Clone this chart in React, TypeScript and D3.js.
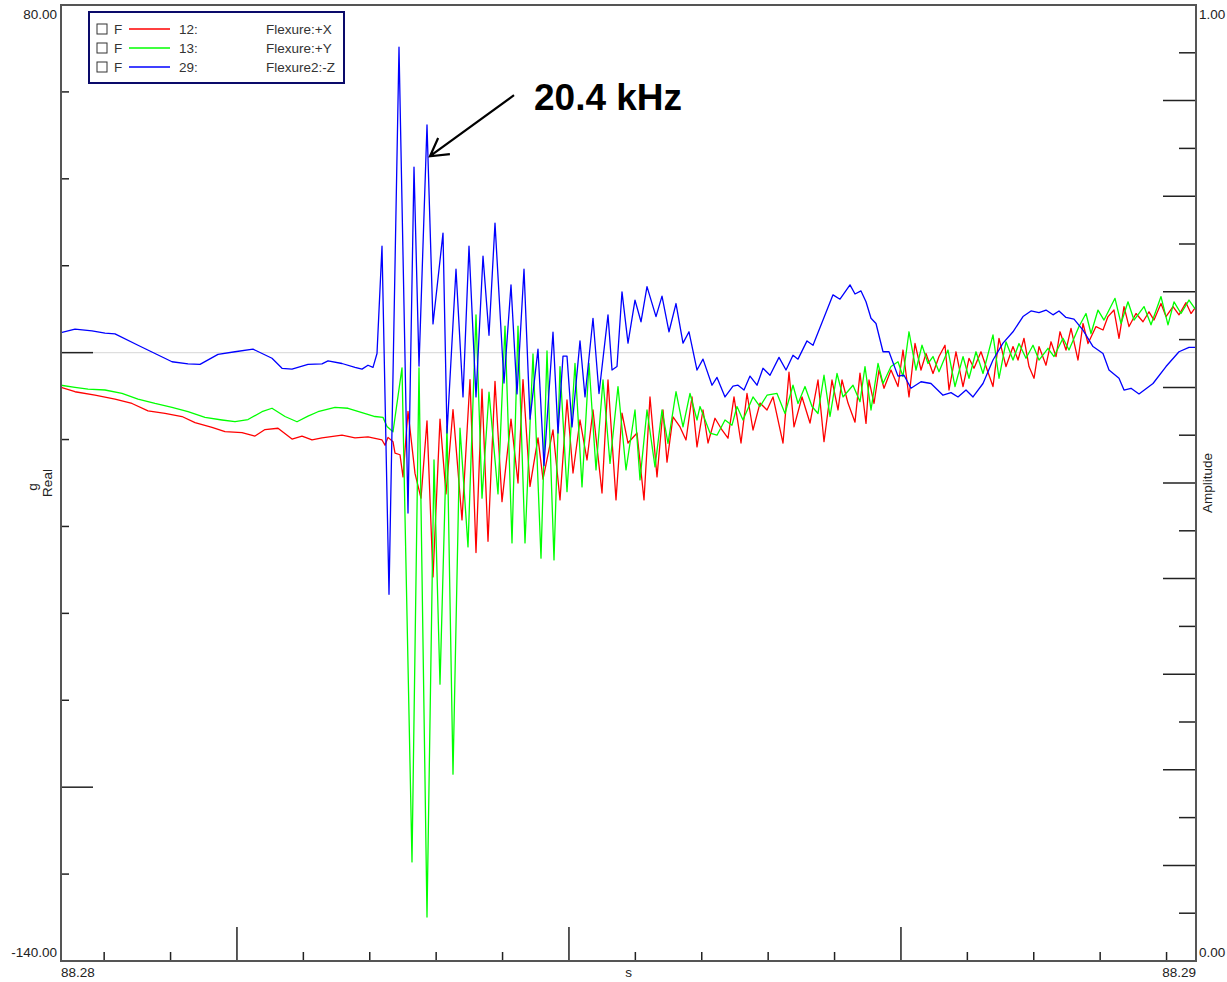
import React, { useEffect, useRef } from 'react'
import * as d3 from 'd3'

// time base: samples counted from the first sample of the window
const FS = 166000 // samples / s
const T0 = 88.28094 // s
const SAMPLE_COUNT = 1135
const TICK_STEP = 0.0004 // s

const realDomain = [-140, 80]
const ampDomain = [0, 1]

const legendIds = ['12:', '13:', '29:']
const legendNames = ['Flexure:+X', 'Flexure:+Y', 'Flexure2:-Z']
const seriesColors = ['#ff0000', '#00ff00', '#0000ff']

// [sample, g]
const redSamples = [
    [0, -8.0], [14, -9.0], [34, -9.8], [54, -10.7], [71, -11.7], [87, -13.4], [104, -14.0], [121, -14.7], [134, -16.1], [151, -17.2],
    [164, -18.2], [181, -18.4], [194, -19.2], [204, -17.7], [217, -17.4], [231, -19.9], [241, -19.2], [251, -20.1], [261, -19.6], [281, -19.0],
    [294, -19.6], [307, -19.4], [321, -20.1], [324, -21.3], [327, -19.5], [332, -20.5], [334, -23.1], [339, -23.5], [342, -28.6], [347, -13.5],
    [354, -27.8], [360, -33.5], [366, -15.7], [372, -51.6], [379, -15.3], [385, -32.5], [392, -13.1], [401, -38.5], [409, -6.2], [415, -46.0],
    [421, -8.4], [427, -43.4], [434, -6.6], [441, -34.3], [450, -15.3], [457, -30.0], [462, -6.2], [469, -30.8], [477, -19.6], [482, -29.1],
    [492, -17.8], [499, -33.9], [506, -10.9], [512, -27.7], [519, -15.5], [526, -24.7], [532, -13.2], [541, -32.3], [547, -6.3], [555, -33.9],
    [561, -13.9], [567, -20.8], [576, -18.5], [583, -33.9], [589, -10.2], [596, -28.6], [602, -13.2], [606, -25.2], [612, -14.8], [619, -17.1],
    [625, -20.1], [631, -10.2], [636, -21.7], [642, -13.2], [647, -20.8], [654, -15.1], [661, -17.8], [667, -19.7], [673, -10.2], [680, -20.8],
    [686, -9.4], [692, -17.8], [699, -11.6], [706, -13.2], [712, -10.2], [722, -20.8], [728, -4.5], [733, -17.1], [741, -10.2], [749, -16.2],
    [757, -6.3], [763, -20.5], [771, -6.3], [777, -13.2], [781, -6.3], [787, -11.6], [794, -16.0], [799, -4.7], [805, -16.3], [808, -6.3],
    [813, -11.7], [818, -4.0], [823, -8.2], [830, -4.0], [837, -7.8], [842, 0.6], [848, -10.2], [854, 2.1], [860, -4.0], [865, -0.2],
    [872, -4.8], [878, -0.9], [884, 1.7], [888, -8.6], [895, 0.2], [902, -7.8], [908, -1.3], [913, -3.6], [920, 0.2], [925, -3.2],
    [932, -7.8], [938, 3.3], [945, -3.2], [952, 1.4], [957, -1.7], [963, 3.3], [968, -3.2], [973, -5.9], [978, 1.4], [985, -2.9],
    [990, 2.5], [995, -0.9], [999, 4.8], [1005, 0.6], [1010, 5.6], [1017, -1.7], [1022, 6.7], [1027, 2.1], [1035, 6.0], [1042, 5.2],
    [1047, 8.3], [1053, 9.8], [1058, 3.3], [1063, 10.6], [1068, 6.0], [1075, 9.0], [1082, 7.1], [1088, 9.4], [1093, 7.5], [1100, 11.3],
    [1105, 8.3], [1112, 10.6], [1118, 8.7], [1125, 11.5], [1130, 9.0], [1135, 10.6]
]

const greenSamples = [
    [0, -7.5], [14, -8.0], [27, -8.4], [44, -8.6], [61, -9.4], [77, -10.7], [94, -11.7], [111, -12.6], [127, -13.6], [144, -14.9],
    [161, -15.5], [174, -15.9], [187, -15.4], [201, -13.6], [211, -12.8], [224, -14.7], [236, -15.9], [247, -14.6], [257, -13.6], [274, -12.6],
    [287, -12.8], [301, -13.8], [314, -14.7], [322, -14.9], [326, -17.0], [332, -18.2], [341, -3.5], [351, -117.2], [358, -3.5], [366, -129.9],
    [373, -24.7], [379, -76.3], [386, -16.9], [392, -97.0], [399, -17.4], [407, -44.7], [415, 8.7], [421, -33.5], [428, -9.1], [437, -32.5],
    [444, 6.1], [451, -43.8], [457, 6.1], [464, -43.8], [472, -0.3], [480, -47.3], [486, 0.4], [493, -47.7], [499, -3.2], [506, -32.0],
    [514, -2.5], [521, -30.9], [528, -2.5], [535, -27.0], [542, -6.3], [549, -25.5], [557, -7.8], [565, -27.0], [574, -13.2], [579, -29.3],
    [586, -13.2], [594, -26.3], [601, -13.2], [607, -20.9], [615, -9.0], [622, -17.1], [629, -9.4], [636, -15.5], [639, -12.4], [649, -18.5],
    [656, -19.0], [664, -15.5], [671, -16.7], [676, -12.4], [682, -15.5], [692, -10.2], [699, -12.4], [706, -9.8], [716, -9.4], [724, -14.0],
    [732, -7.5], [737, -11.7], [744, -7.8], [751, -12.4], [757, -14.0], [763, -5.2], [769, -14.7], [776, -4.8], [782, -10.2], [792, -7.5],
    [799, -11.3], [804, -3.2], [810, -13.2], [817, -2.5], [822, -7.1], [830, -3.2], [837, -2.1], [842, -5.5], [848, 4.8], [855, -4.0],
    [861, 1.7], [867, -2.5], [872, -0.9], [878, -4.4], [887, 0.6], [894, -7.8], [902, -0.9], [908, -5.9], [915, 0.2], [922, -4.8],
    [932, 4.1], [938, -5.9], [945, 2.5], [952, -1.7], [958, 2.1], [965, -1.3], [972, 1.7], [978, -1.7], [987, 1.0], [993, -0.9],
    [1002, 3.3], [1008, 0.6], [1018, 6.0], [1025, 9.0], [1030, 4.4], [1037, 9.8], [1043, 7.5], [1054, 12.5], [1060, 6.7], [1067, 11.7],
    [1073, 7.5], [1083, 10.6], [1090, 6.4], [1100, 12.9], [1107, 6.4], [1113, 11.7], [1120, 9.0], [1128, 12.1], [1135, 9.8]
]

const blueSamples = [
    [0, 4.6], [14, 5.4], [31, 5.0], [44, 4.5], [54, 4.3], [77, 1.7], [94, -0.2], [111, -2.1], [127, -2.6], [139, -2.7],
    [157, -0.4], [174, 0.2], [192, 0.8], [211, -1.3], [221, -3.6], [231, -3.8], [247, -2.7], [261, -2.6], [267, -1.9], [281, -2.5],
    [294, -3.4], [301, -3.8], [307, -2.9], [312, -3.4], [316, -0.2], [321, 24.5], [328, -55.6], [338, 70.3], [347, -36.9], [353, 42.7],
    [358, -3.1], [366, 52.4], [372, 6.6], [382, 27.5], [386, -18.5], [395, 19.2], [402, -10.2], [408, 24.5], [415, -10.2], [422, 22.2],
    [428, 4.0], [434, 29.8], [443, -7.0], [450, 15.6], [456, -9.5], [463, 19.2], [469, -15.3], [477, 0.8], [483, -26.0], [492, 4.7],
    [497, -18.5], [502, -0.8], [506, -0.8], [511, -17.1], [519, 2.7], [524, -10.2], [532, 7.9], [538, -9.4], [547, 8.7], [551, -4.0],
    [556, -3.2], [561, 14.0], [567, 2.2], [574, 12.1], [580, 7.1], [586, 15.2], [595, 8.3], [601, 13.0], [608, 4.8], [615, 11.3],
    [622, 2.2], [628, 4.8], [636, -4.0], [642, -1.5], [651, -7.5], [656, -5.7], [664, -10.2], [672, -7.7], [677, -7.5], [683, -8.6],
    [689, -5.4], [696, -7.5], [702, -3.6], [709, -5.2], [718, -1.1], [725, -4.0], [732, -0.6], [737, -1.5], [746, 2.7], [752, 1.7],
    [762, 7.5], [772, 13.3], [779, 12.3], [789, 15.6], [794, 13.5], [800, 14.2], [805, 11.7], [810, 7.9], [815, 6.7], [822, 0.2],
    [828, 0.2], [837, -5.4], [843, -5.2], [850, -8.2], [860, -6.7], [870, -7.1], [882, -9.8], [890, -9.2], [897, -10.2], [905, -8.6],
    [912, -10.2], [922, -7.1], [932, -1.7], [942, 2.2], [952, 4.8], [962, 8.3], [970, 9.6], [978, 9.2], [985, 9.8], [992, 8.7],
    [998, 9.6], [1005, 8.1], [1013, 7.7], [1022, 5.2], [1032, 1.4], [1042, -0.2], [1048, -4.0], [1058, -5.9], [1063, -8.6], [1070, -8.2],
    [1078, -9.5], [1092, -7.1], [1105, -3.2], [1118, 0.2], [1128, 1.2], [1135, 1.2]
]

const annotationText = '20.4 kHz'
const annotationPoint = [369, 45.2] // blue peak the arrow points at

const FONT = '"Liberation Sans", Arial, sans-serif'

function App() {
    const ref = useRef(null)
    const width = 1227
    const height = 982
    const margin = { left: 61, right: 31, top: 5, bottom: 21 }

    useEffect(() => {
        const svg = d3.select(ref.current)
        svg.selectAll('*').remove()

        const T1 = T0 + SAMPLE_COUNT / FS
        const x = d3.scaleLinear().domain([T0, T1]).range([margin.left, width - margin.right])
        const y = d3.scaleLinear().domain(realDomain).range([height - margin.bottom, margin.top])
        const yAmp = d3.scaleLinear().domain(ampDomain).range([height - margin.bottom, margin.top])
        const sx = (n) => x(T0 + n / FS)

        const left = margin.left, right = width - margin.right
        const top = margin.top, bottom = height - margin.bottom

        svg.append('rect').attr('width', width).attr('height', height).attr('fill', '#fff')

        // zero line
        svg.append('line')
            .attr('x1', left).attr('x2', right)
            .attr('y1', y(0)).attr('y2', y(0))
            .attr('stroke', '#dedede').attr('stroke-width', 1.2)

        svg.append('clipPath').attr('id', 'plot-clip')
            .append('rect').attr('x', left).attr('y', top).attr('width', right - left).attr('height', bottom - top)

        const line = d3.line().x(d => sx(d[0])).y(d => y(d[1]))
        const series = [redSamples, greenSamples, blueSamples]
        svg.append('g').attr('clip-path', 'url(#plot-clip)')
            .selectAll('path')
            .data(series)
            .join('path')
            .attr('fill', 'none')
            .attr('stroke', (_d, i) => seriesColors[i])
            .attr('stroke-width', 1.3)
            .attr('stroke-linejoin', 'round')
            .attr('d', d => line(d))

        // ticks
        const tickG = svg.append('g').attr('stroke', '#222').attr('stroke-width', 1.5)

        d3.range(-120, 80, 20).forEach(v => {
            const len = v % 100 === 0 ? 32 : 8
            tickG.append('line').attr('x1', left).attr('x2', left + len).attr('y1', y(v)).attr('y2', y(v))
        })

        d3.range(1, 20).forEach(i => {
            const len = i % 2 === 0 ? 33 : 17
            tickG.append('line').attr('x1', right - len).attr('x2', right).attr('y1', yAmp(i * 0.05)).attr('y2', yAmp(i * 0.05))
        })

        const k0 = Math.ceil(T0 / TICK_STEP), k1 = Math.floor(T1 / TICK_STEP)
        d3.range(k0, k1 + 1).forEach(k => {
            const len = k % 5 === 0 ? 34 : 9
            const px = x(k * TICK_STEP)
            tickG.append('line').attr('x1', px).attr('x2', px).attr('y1', bottom).attr('y2', bottom - len)
        })

        // frame
        svg.append('rect')
            .attr('x', left).attr('y', top).attr('width', right - left).attr('height', bottom - top)
            .attr('fill', 'none').attr('stroke', '#555').attr('stroke-width', 2)

        // axis labels
        const label = (tx, ty, text, anchor = 'start', rotate = false) => {
            const t = svg.append('text')
                .attr('font-family', FONT).attr('font-size', 13.5).attr('fill', '#222')
                .attr('text-anchor', anchor).text(text)
            if (rotate) t.attr('transform', `translate(${tx},${ty}) rotate(-90)`)
            else t.attr('x', tx).attr('y', ty)
            return t
        }
        const fmt = (v) => v.toFixed(2)
        label(left - 4, y(realDomain[1]) + 14, fmt(realDomain[1]), 'end')
        label(left - 4, y(realDomain[0]) - 4, fmt(realDomain[0]), 'end')
        label(right + 3, yAmp(ampDomain[1]) + 14, fmt(ampDomain[1]))
        label(right + 3, yAmp(ampDomain[0]) - 4, fmt(ampDomain[0]))
        label(left, bottom + 16, fmt(T0))
        label(right, bottom + 16, fmt(T1), 'end')
        label((left + right) / 2, bottom + 16, 's', 'middle')
        label(37, (top + bottom) / 2 + 4, 'g', 'middle', true)
        label(52, (top + bottom) / 2, 'Real', 'middle', true)
        label(1212, (top + bottom) / 2, 'Amplitude', 'middle', true)

        // legend
        const lg = svg.append('g').attr('transform', 'translate(89,12)')
        lg.append('rect').attr('width', 255).attr('height', 71)
            .attr('fill', '#fff').attr('stroke', '#0a0a6a').attr('stroke-width', 2)
        legendIds.forEach((id, i) => {
            const cy = 17 + i * 19
            const row = lg.append('g').attr('transform', `translate(0,${cy})`)
            row.append('rect').attr('x', 8).attr('y', -5).attr('width', 10).attr('height', 10)
                .attr('fill', 'none').attr('stroke', '#333').attr('stroke-width', 1)
            row.append('line').attr('x1', 40).attr('x2', 81).attr('y1', 0).attr('y2', 0)
                .attr('stroke', seriesColors[i]).attr('stroke-width', 1.5)
            const txt = (tx, s) => row.append('text').attr('x', tx).attr('y', 5)
                .attr('font-family', FONT).attr('font-size', 13.5).attr('fill', '#333').text(s)
            txt(25, 'F')
            txt(90, id)
            txt(177, legendNames[i])
        })

        // annotation
        const tipX = sx(annotationPoint[0]), tipY = y(annotationPoint[1])
        const startX = tipX + 84, startY = tipY - 61
        const ang = Math.atan2(startY - tipY, startX - tipX)
        const head = 20, spread = Math.PI / 6
        const wing = a => [tipX + head * Math.cos(a), tipY + head * Math.sin(a)]
        const w1 = wing(ang + spread), w2 = wing(ang - spread)
        svg.append('path')
            .attr('d', `M${startX},${startY}L${tipX},${tipY}M${w1[0]},${w1[1]}L${tipX},${tipY}L${w2[0]},${w2[1]}`)
            .attr('fill', 'none').attr('stroke', '#000').attr('stroke-width', 2.2)
        svg.append('text')
            .attr('x', tipX + 104).attr('y', tipY - 46)
            .attr('font-family', FONT).attr('font-size', 37).attr('font-weight', 'bold')
            .attr('fill', '#000').text(annotationText)
    }, [])

    return <svg ref={ref} width={width} height={height} style={{ position: 'absolute', left: 0, top: 0 }} />
}

export default App
